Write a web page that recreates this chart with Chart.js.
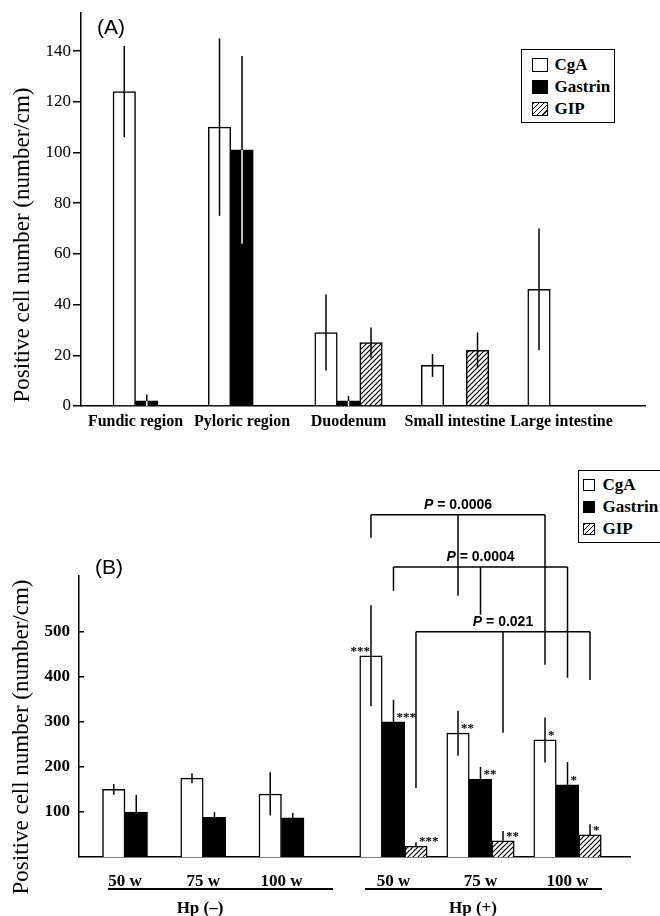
<!DOCTYPE html>
<html lang="en">
<head>
<meta charset="UTF-8">
<title>Positive cell number</title>
<script src="https://cdn.jsdelivr.net/npm/chart.js"></script>
<style>
    body {
        margin: 0;
        background: #fff;
    }

    #page {
        position: relative;
        width: 660px;
        height: 916px;
        overflow: hidden;
        font-family: 'Liberation Serif', serif;
        color: #000;
    }

    canvas {
        position: absolute;
    }

    #chartA { left: 0; top: 0; }
    #chartB1 { left: 0; top: 430px; }
    #chartB2 { left: 335px; top: 430px; }

    .panel {
        position: absolute;
        font: 21px 'Liberation Sans', sans-serif;
        line-height: 22px;
    }

    .ytitle {
        position: absolute;
        width: 340px;
        height: 26px;
        line-height: 26px;
        text-align: center;
        font-size: 23px;
        white-space: nowrap;
        transform: rotate(-90deg);
    }

    .legend {
        position: absolute;
        box-sizing: border-box;
        border: 1.5px solid #000;
        background: #fff;
        font: bold 17px 'Liberation Serif', serif;
    }

    .legend .row {
        display: flex;
        align-items: center;
        height: 22px;
    }

    .legend .sw {
        box-sizing: border-box;
        border: 1.5px solid #000;
        background: #fff;
    }

    .legend .sw.black { background: #000; }
    .legend .sw.hatch {
        background: repeating-linear-gradient(135deg, #000 0 1.2px, #fff 1.2px 3.6px);
    }

    #legendA { left: 521px; top: 49px; width: 94px; height: 74px; padding-top: 4px; }
    #legendA .sw { width: 16px; height: 14px; margin: 0 7px 0 9.5px; }
    #legendB { left: 578px; top: 470px; width: 100px; height: 73px; padding-top: 3px; }
    #legendB .sw { width: 12px; height: 12px; margin: 0 8px 0 3.5px; }

    .group {
        position: absolute;
        top: 898px;
        width: 120px;
        text-align: center;
        font: bold 17px 'Liberation Serif', serif;
        line-height: 20px;
    }

    .rule {
        position: absolute;
        top: 888px;
        height: 1.5px;
        background: #000;
    }
</style>
</head>
<body>
<div id="page">
    <canvas id="chartA" width="660" height="430"></canvas>
    <canvas id="chartB1" width="335" height="486"></canvas>
    <canvas id="chartB2" width="325" height="486"></canvas>

    <div class="panel" style="left:97px; top:16px;">(A)</div>
    <div class="panel" style="left:95px; top:556px;">(B)</div>

    <div class="ytitle" style="left:-148px; top:232px;">Positive cell number (number/cm)</div>
    <div class="ytitle" style="left:-149px; top:724px;">Positive cell number (number/cm)</div>

    <div class="legend" id="legendA"></div>
    <div class="legend" id="legendB"></div>

    <div class="rule" style="left:108px; width:225px;"></div>
    <div class="rule" style="left:365px; width:237px;"></div>
    <div class="group" style="left:140px;">Hp (–)</div>
    <div class="group" style="left:413px;">Hp (+)</div>
</div>

<script>
    // ---- data ----
    const seriesNames = ['CgA', 'Gastrin', 'GIP'];

    // (A) regions
    const regionLabels = ['Fundic region', 'Pyloric region', 'Duodenum', 'Small intestine', 'Large intestine'];
    const cgaA = [124, 110, 29, 16, 46];
    const cgaErrA = [18, 35, 15, 4.5, 24];
    const gastrinA = [2, 101, 2, 0, 0];
    const gastrinErrA = [2.5, 37, 2, 0, 0];
    const gipA = [null, 0, 25, 22, 0];
    const gipErrA = [0, 0, 6, 7, 0];
    const yTicksA = [0, 20, 40, 60, 80, 100, 120, 140];

    // (B) weeks, Hp (-) and Hp (+)
    const weekLabels = ['50 w', '75 w', '100 w'];
    const cgaNeg = [150, 175, 140];
    const cgaErrNeg = [12, 11, 48];
    const gastrinNeg = [100, 88, 87];
    const gastrinErrNeg = [38, 12, 11];
    const gipNeg = [null, null, null];

    const cgaPos = [447, 275, 260];
    const cgaErrPos = [112, 50, 50];
    const gastrinPos = [300, 173, 160];
    const gastrinErrPos = [49, 27, 51];
    const gipPos = [24, 36, 49];
    const gipErrPos = [9, 22, 24];
    const starsPos = ['***', '**', '*'];
    const yTicksB = [100, 200, 300, 400, 500];

    // comparison brackets across weeks, one per series
    const pValues = ['0.0006', '0.0004', '0.021'];
    const bracketTop = [760, 644, 500];
    const bracketLegs = [[709, 580, 427], [591, 538, 398], [153, 276, 393]];

    // ---- helpers ----
    Chart.defaults.font.family = 'Liberation Serif';
    Chart.defaults.color = '#000';

    function makeHatch() {
        const s = 5;
        const c = document.createElement('canvas');
        c.width = s;
        c.height = s;
        const g = c.getContext('2d');
        g.fillStyle = '#fff';
        g.fillRect(0, 0, s, s);
        g.strokeStyle = '#000';
        g.lineWidth = 1.2;
        g.beginPath();
        g.moveTo(0, s); g.lineTo(s, 0);
        g.moveTo(-1, 1); g.lineTo(1, -1);
        g.moveTo(s - 1, s + 1); g.lineTo(s + 1, s - 1);
        g.stroke();
        return g.createPattern(c, 'repeat');
    }
    const hatch = makeHatch();

    const toXY = arr => arr.map((v, i) => ({x: i, y: v}));

    function barSet(label, values, errs, fill, extra) {
        return Object.assign({
            label: label,
            data: toXY(values),
            err: errs,
            errBelow: true,
            backgroundColor: fill,
            borderColor: '#000',
            borderWidth: 1.5,
            borderSkipped: 'start',
            barThickness: 22.5,
            skipNull: true
        }, extra || {});
    }

    function line(ctx, x1, y1, x2, y2) {
        ctx.beginPath();
        ctx.moveTo(x1, y1);
        ctx.lineTo(x2, y2);
        ctx.stroke();
    }

    // error bars and significance stars
    const errorBars = {
        id: 'errorBars',
        afterDatasetsDraw(chart) {
            const ctx = chart.ctx;
            const yScale = chart.scales.y;
            ctx.save();
            ctx.lineWidth = 1.5;
            chart.data.datasets.forEach((ds, i) => {
                const meta = chart.getDatasetMeta(i);
                meta.data.forEach((bar, k) => {
                    const v = ds.data[k].y;
                    if (v == null) return;
                    const e = ds.err ? ds.err[k] : 0;
                    const x = bar.x;
                    const barTop = yScale.getPixelForValue(v);
                    if (e) {
                        ctx.strokeStyle = '#000';
                        line(ctx, x, yScale.getPixelForValue(v + e), x, barTop);
                        if (ds.errBelow) {
                            ctx.strokeStyle = ds.errInside || '#000';
                            line(ctx, x, barTop, x, yScale.getPixelForValue(Math.max(0, v - e)));
                        }
                    }
                    if (ds.stars && ds.stars[k]) {
                        ctx.fillStyle = '#000';
                        ctx.font = 'bold 13px Liberation Serif';
                        ctx.textBaseline = 'alphabetic';
                        const left = ds.starsLeft && ds.starsLeft[k];
                        ctx.textAlign = left ? 'right' : 'left';
                        ctx.fillText(ds.stars[k], left ? x - 1 : x + 3, barTop - 1);
                    }
                });
            });
            ctx.restore();
        }
    };

    const brackets = {
        id: 'brackets',
        afterDatasetsDraw(chart) {
            const ctx = chart.ctx;
            const yScale = chart.scales.y;
            ctx.save();
            ctx.lineWidth = 1.5;
            ctx.strokeStyle = '#000';
            ctx.fillStyle = '#000';
            pValues.forEach((p, s) => {
                const xs = chart.getDatasetMeta(s).data.map(b => b.x);
                const yTop = yScale.getPixelForValue(bracketTop[s]);
                line(ctx, xs[0], yTop, xs[xs.length - 1], yTop);
                xs.forEach((x, k) => line(ctx, x, yTop, x, yScale.getPixelForValue(bracketLegs[s][k])));

                ctx.textBaseline = 'alphabetic';
                ctx.textAlign = 'left';
                ctx.font = 'italic bold 14px Liberation Sans';
                const wP = ctx.measureText('P').width;
                ctx.font = 'bold 14px Liberation Sans';
                const rest = ' = ' + p;
                const wR = ctx.measureText(rest).width;
                const x0 = xs[1] - (wP + wR) / 2;
                ctx.font = 'italic bold 14px Liberation Sans';
                ctx.fillText('P', x0, yTop - 6);
                ctx.font = 'bold 14px Liberation Sans';
                ctx.fillText(rest, x0 + wP, yTop - 6);
            });
            ctx.restore();
        }
    };

    function xAxis(labels, min, max, height, pad, font) {
        return {
            type: 'linear',
            min: min,
            max: max,
            offset: false,
            afterBuildTicks: s => { s.ticks = labels.map((_, i) => ({value: i})); },
            afterFit: s => { s.height = height; },
            grid: {display: false, drawTicks: false, offset: false},
            border: {color: '#000', width: 1.5},
            ticks: {
                padding: pad,
                autoSkip: false,
                maxRotation: 0,
                color: '#000',
                font: font,
                callback: v => labels[v] ?? ''
            }
        };
    }

    const baseOptions = {
        responsive: false,
        animation: false,
        devicePixelRatio: 1,
        plugins: {legend: {display: false}, tooltip: {enabled: false}}
    };

    // ---- (A) ----
    new Chart(document.getElementById('chartA'), {
        type: 'bar',
        data: {
            datasets: [
                barSet('CgA', cgaA, cgaErrA, '#fff'),
                barSet('Gastrin', gastrinA, gastrinErrA, '#000', {errInside: '#fff'}),
                barSet('GIP', gipA, gipErrA, hatch)
            ]
        },
        options: Object.assign({}, baseOptions, {
            layout: {padding: {left: 0, right: 15, top: 13, bottom: 0}},
            scales: {
                x: xAxis(regionLabels, -0.512, 4.784, 24, 6, {size: 16, weight: 'bold'}),
                y: {
                    min: 0,
                    max: 155,
                    afterBuildTicks: s => { s.ticks = yTicksA.map(v => ({value: v})); },
                    afterFit: s => { s.width = 81; },
                    grid: {drawOnChartArea: false, drawTicks: true, tickLength: 8, color: '#000', lineWidth: 1.5},
                    border: {color: '#000', width: 1.5},
                    ticks: {padding: 2, color: '#000', font: {size: 17}}
                }
            }
        }),
        plugins: [errorBars]
    });

    // ---- (B) Hp (-) ----
    new Chart(document.getElementById('chartB1'), {
        type: 'bar',
        data: {
            datasets: [
                barSet('CgA', cgaNeg, cgaErrNeg, '#fff'),
                barSet('Gastrin', gastrinNeg, gastrinErrNeg, '#000', {errBelow: false}),
                barSet('GIP', gipNeg, [0, 0, 0], hatch)
            ]
        },
        options: Object.assign({}, baseOptions, {
            layout: {padding: {left: 0, right: 0, top: 146, bottom: 0}},
            scales: {
                x: xAxis(weekLabels, -0.588, 2.684, 59, 14, {size: 17, weight: 'bold'}),
                y: {
                    min: 0,
                    max: 624,
                    afterBuildTicks: s => { s.ticks = yTicksB.map(v => ({value: v})); },
                    afterFit: s => { s.width = 79; },
                    grid: {drawOnChartArea: false, drawTicks: true, tickLength: -5, color: '#000', lineWidth: 1.5},
                    border: {color: '#000', width: 1.5},
                    ticks: {padding: 14, color: '#000', font: {size: 17, weight: 'bold'}}
                }
            }
        }),
        plugins: [errorBars]
    });

    // ---- (B) Hp (+) ----
    new Chart(document.getElementById('chartB2'), {
        type: 'bar',
        data: {
            datasets: [
                barSet('CgA', cgaPos, cgaErrPos, '#fff', {stars: starsPos, starsLeft: [true, false, false]}),
                barSet('Gastrin', gastrinPos, gastrinErrPos, '#000', {errBelow: false, stars: starsPos}),
                barSet('GIP', gipPos, gipErrPos, hatch, {errBelow: false, stars: starsPos})
            ]
        },
        options: Object.assign({}, baseOptions, {
            layout: {padding: {left: 0, right: 30, top: 146, bottom: 0}},
            scales: {
                x: xAxis(weekLabels, -0.672, 2.718, 59, 14, {size: 17, weight: 'bold'}),
                y: {display: false, min: 0, max: 624}
            }
        }),
        plugins: [errorBars, brackets]
    });

    // ---- legends ----
    const swatchClass = ['', 'black', 'hatch'];
    ['legendA', 'legendB'].forEach(id => {
        const box = document.getElementById(id);
        seriesNames.forEach((name, i) => {
            const row = document.createElement('div');
            row.className = 'row';
            row.innerHTML = `<span class="sw ${swatchClass[i]}"></span><span>${name}</span>`;
            box.appendChild(row);
        });
    });
</script>
</body>
</html>
